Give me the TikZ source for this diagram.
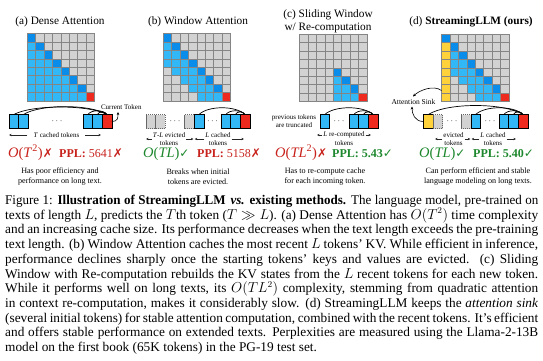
\documentclass[tikz,border=0pt]{standalone}
\usepackage{fontspec}
\setmainfont{Liberation Serif}
\newfontfamily\symfont{DejaVu Sans}
\usetikzlibrary{arrows.meta,calc}
\definecolor{mgray}{HTML}{D2D2D2}
\definecolor{mdblue}{HTML}{0A8CEB}
\definecolor{mlblue}{HTML}{33B8F7}
\definecolor{mred}{HTML}{EE2A1F}
\definecolor{myellow}{HTML}{FFD23C}
\definecolor{gridc}{HTML}{858585}
\definecolor{tred}{HTML}{C8221C}
\definecolor{tgreen}{HTML}{1C872C}
\newcommand\xmark{{\symfont\fontsize{12}{12}\selectfont ✗}}
\newcommand\cmark{{\symfont\fontsize{12}{12}\selectfont ✓}}
\def\ruleA#1#2{\ifnum#2>#1\relax\def\mcol{mgray}\else\ifnum#2=#1\relax\ifnum#1=8\relax\def\mcol{mred}\else\def\mcol{mdblue}\fi\else\def\mcol{mlblue}\fi\fi}
\def\ruleB#1#2{\ruleA{#1}{#2}\ifnum\numexpr#1-#2\relax>3\relax\def\mcol{mgray}\fi}
\def\ruleC#1#2{\ruleA{#1}{#2}\ifnum#1<5\relax\def\mcol{mgray}\fi\ifnum#2<5\relax\def\mcol{mgray}\fi}
\def\ruleD#1#2{\ruleB{#1}{#2}\ifnum#2=1\relax\ifnum#1>1\relax\def\mcol{myellow}\fi\fi}
\newcommand\drawmat[3]{%
  \foreach \ii in {1,...,8}{\foreach \jj in {1,...,8}{%
    #3{\ii}{\jj}%
    \filldraw[fill=\mcol, draw=gridc, line width=0.6pt] ({#1+(\jj-1)*8.45},{#2+(\ii-1)*8.45}) rectangle ++(8.45,8.45);
  }}}
\newcommand\tokarc[3]{\draw[arcst] (#1.north) .. controls ($(#1.north)!0.2!(#2.north)+(0,-#3)$) and ($(#1.north)!0.8!(#2.north)+(0,-#3)$) .. (#2.north);}
\begin{document}
\begin{tikzpicture}[x=1pt,y=-1pt,
  tok/.style={draw=black, line width=0.5pt, fill=mlblue, minimum width=9.6pt, minimum height=14pt, inner sep=0pt, outer sep=0pt, anchor=north west},
  evtok/.style={tok, fill=mgray, draw=black!60, dash pattern=on 1.2pt off 0.8pt},
  redtok/.style={tok, fill=mred},
  yeltok/.style={tok, fill=myellow},
  dotsn/.style={inner sep=0pt, font=\fontsize{9}{9}\selectfont},
  lab/.style={inner sep=0.8pt, font=\fontsize{7}{8}\selectfont, align=center},
  desc/.style={inner sep=0pt, font=\fontsize{8.1}{10.2}\selectfont, align=center},
  ttl/.style={inner sep=0pt, font=\fontsize{11.3}{13}\selectfont, align=center},
  bigo/.style={anchor=base west, inner sep=0pt, font=\fontsize{14.5}{16}\selectfont},
  ppl/.style={anchor=base west, inner sep=0pt, font=\fontsize{12}{14}\selectfont},
  arcst/.style={draw=black, line width=0.7pt},
  dimarr/.style={draw=black!85, line width=0.8pt, -{Stealth[length=2.6pt,width=2.4pt]}},
  ptr/.style={draw=black, line width=0.6pt, -{Stealth[length=3pt,width=2.6pt]}},
  capline/.style={anchor=base west, inner sep=0pt, font=\fontsize{13.3}{14.7}\selectfont}]
\useasboundingbox (0,0) rectangle (543,360);
\fill[white] (0,0) rectangle (543,360);

% titles
\node[ttl] (ta) at (60,22) {(a) Dense Attention};
\node[ttl] (tb) at (198,22) {(b) Window Attention};
\node[ttl] (tc) at (328,21.5) {(c) Sliding Window\\w/ Re-computation};
\node[ttl] (td) at (471,22) {(d) \textbf{StreamingLLM (ours)}};

% matrices
\drawmat{27}{33.5}{\ruleA}
\drawmat{163}{33.5}{\ruleB}
\drawmat{299.5}{34}{\ruleC}
\drawmat{441.5}{34}{\ruleD}

% ---------- panel (a) tokens
\node[tok] (a1) at (9,114.5) {};
\node[tok] (a2) at (18.6,114.5) {};
\node[dotsn] (ad) at (57,121.5) {$\cdots$};
\node[tok] (a3) at (83,114.5) {};
\node[tok] (a4) at (92.6,114.5) {};
\node[redtok] (a5) at (102.2,114.5) {};
\tokarc{a5}{a1}{10}
\tokarc{a5}{a2}{10.5}
\tokarc{a5}{a3}{5}
\tokarc{a5}{a4}{3.5}
\node[lab, anchor=west] (cur) at (100,107) {Current Token};
\coordinate (curtip) at (118,112);
\draw[ptr] (a5.east) .. controls +(6,0) and +(0,6) .. (curtip);
\node[lab] (alab) at (56.5,135) {\textit{T} cached tokens};
\coordinate (aL1) at (27,135); \coordinate (aL2) at (9,135);
\coordinate (aR1) at (85,135); \coordinate (aR2) at (101,135);
\draw[dimarr] (aL1) -- (aL2);
\draw[dimarr] (aR1) -- (aR2);
\node[bigo, text=tred] (ao) at (8,157) {\textit{O}(\textit{T}\textsuperscript{2})\xmark};
\node[ppl, text=tred] (ap) at (59,157) {\textbf{PPL:} 5641\xmark};
\node[desc] (ades) at (60,176.5) {Has poor efficiency and\\performance on long text.};

% ---------- panel (b)
\node[evtok] (b1) at (146,114.5) {};
\node[evtok] (b2) at (155.6,114.5) {};
\node[dotsn] (bd1) at (175,121.5) {$\cdots$};
\node[evtok] (b3) at (184.6,114.5) {};
\node[tok] (b4) at (194.2,114.5) {};
\node[dotsn] (bd2) at (212.5,121.5) {$\cdots$};
\node[tok] (b5) at (221,114.5) {};
\node[tok] (b6) at (230.6,114.5) {};
\node[redtok] (b7) at (240.2,114.5) {};
\tokarc{b7}{b4}{9}
\tokarc{b7}{b5}{5}
\tokarc{b7}{b6}{3.5}
\node[lab] (blab1) at (169,139) {\textit{T}-\textit{L} evicted\\tokens};
\node[lab] (blab2) at (218,139) {\textit{L} cached\\tokens};
\coordinate (bL1) at (146,139); \coordinate (bR1) at (193.5,139);
\coordinate (bL2) at (194.7,139); \coordinate (bR2) at (244,139);
\draw[dimarr] (blab1.west) -- (bL1);
\draw[dimarr] (blab1.east) -- (bR1);
\draw[dimarr] (blab2.west) -- (bL2);
\draw[dimarr] (blab2.east) -- (bR2);
\node[bigo, text=tgreen] (bo) at (143,157) {\textit{O}(\textit{TL})\cmark};
\node[ppl, text=tred] (bp) at (197,157) {\textbf{PPL:} 5158\xmark};
\node[desc] (bdes) at (198,176.5) {Breaks when initial\\tokens are evicted.};

% ---------- panel (c)
\node[lab] (prev) at (294,121.5) {previous tokens\\are truncated};
\node[tok] (c1) at (320,114.5) {};
\node[dotsn] (cd) at (339,121.5) {$\cdots$};
\node[tok] (c2) at (349,114.5) {};
\node[tok] (c3) at (358.6,114.5) {};
\node[redtok] (c4) at (368.2,114.5) {};
\tokarc{c4}{c1}{9}
\tokarc{c4}{c2}{5}
\tokarc{c4}{c3}{3.5}
\node[lab] (clab1) at (344,135) {\textit{L} re-computed};
\node[lab] (clab2) at (344,143) {tokens};
\coordinate (cL) at (317,135); \coordinate (cR) at (371,135);
\draw[dimarr] (clab1.west) -- (cL);
\draw[dimarr] (clab1.east) -- (cR);
\node[bigo, text=tred] (co) at (275,157) {\textit{O}(\textit{TL}\textsuperscript{2})\xmark};
\node[ppl, text=tgreen] (cp) at (332,157) {\textbf{PPL: 5.43}\cmark};
\node[desc] (cdes) at (325,176.5) {Has to re-compute cache\\for each incoming token.};

% ---------- panel (d)
\node[yeltok] (d1) at (423.5,114.5) {};
\node[evtok] (d2) at (433.1,114.5) {};
\node[dotsn] (dd1) at (452,121.5) {$\cdots$};
\node[evtok] (d3) at (461.2,114.5) {};
\node[tok] (d4) at (470.8,114.5) {};
\node[dotsn] (dd2) at (490,121.5) {$\cdots$};
\node[tok] (d5) at (499,114.5) {};
\node[tok] (d6) at (508.6,114.5) {};
\node[redtok] (d7) at (518.2,114.5) {};
\tokarc{d7}{d1}{12}
\tokarc{d7}{d4}{9}
\tokarc{d7}{d5}{5}
\tokarc{d7}{d6}{3.5}
\node[lab, font=\fontsize{7.5}{8}\selectfont] (sink) at (413.5,101.5) {Attention Sink};
\coordinate (ysrc) at (441.5,90.5);
\coordinate (sinktip) at (413,96.5);
\draw[ptr] (ysrc) .. controls +(-8,-6) and +(6,-6) .. (sinktip);
\coordinate (sinkb) at (412,106.5);
\draw[ptr] (d1.west) .. controls +(-9,0) and +(0,7) .. (sinkb);
\node[lab] (dlab1) at (453.5,139) {evicted\\tokens};
\node[lab] (dlab2) at (493,139) {\textit{L} cached\\tokens};
\coordinate (dL1) at (435,139); \coordinate (dR1) at (470.3,139);
\coordinate (dL2) at (471.5,139); \coordinate (dR2) at (516,139);
\draw[dimarr] (dlab1.west) -- (dL1);
\draw[dimarr] (dlab1.east) -- (dR1);
\draw[dimarr] (dlab2.west) -- (dL2);
\draw[dimarr] (dlab2.east) -- (dR2);
\node[bigo, text=tgreen] (do) at (419,157) {\textit{O}(\textit{TL})\cmark};
\node[ppl, text=tgreen] (dp) at (473,157) {\textbf{PPL: 5.40}\cmark};
\node[desc] (ddes) at (478,176.5) {Can perform efficient and stable\\language modeling on long texts.};

% ---------- caption
\node[capline] (cap1) at (5,204.5) {\scalebox{0.98}[1]{\makebox[544pt][s]{Figure 1: \textbf{Illustration of StreamingLLM\hspace{1.5pt} \textit{vs.}\/ existing methods.} The language model, pre-trained on}}};
\node[capline] (cap2) at (5,219.2) {\makebox[533pt][s]{texts of length $L$, predicts the $T$th token ($T \gg L$). (a) Dense Attention has $O(T^2)$ time complexity}};
\node[capline] (cap3) at (5,233.9) {\makebox[533pt][s]{and an increasing cache size. Its performance decreases when the text length exceeds the pre-training}};
\node[capline] (cap4) at (5,248.6) {\makebox[533pt][s]{text length. (b) Window Attention caches the most recent $L$ tokens' KV. While efficient in inference,}};
\node[capline] (cap5) at (5,263.3) {\makebox[533pt][s]{performance declines sharply once the starting tokens' keys and values are evicted. (c) Sliding}};
\node[capline] (cap6) at (5,278) {\makebox[533pt][s]{Window with Re-computation rebuilds the KV states from the $L$ recent tokens for each new token.}};
\node[capline] (cap7) at (5,292.7) {\makebox[533pt][s]{While it performs well on long texts, its $O(TL^2)$ complexity, stemming from quadratic attention}};
\node[capline] (cap8) at (5,307.4) {\makebox[533pt][s]{in context re-computation, makes it considerably slow. (d) StreamingLLM keeps the \textit{attention sink}}};
\node[capline] (cap9) at (5,322.1) {\makebox[533pt][s]{(several initial tokens) for stable attention computation, combined with the recent tokens. It's efficient}};
\node[capline] (cap10) at (5,336.8) {\makebox[533pt][s]{and offers stable performance on extended texts. Perplexities are measured using the Llama-2-13B}};
\node[capline] (cap11) at (5,351.5) {model on the first book (65K tokens) in the PG-19 test set.};
\end{tikzpicture}
\end{document}
